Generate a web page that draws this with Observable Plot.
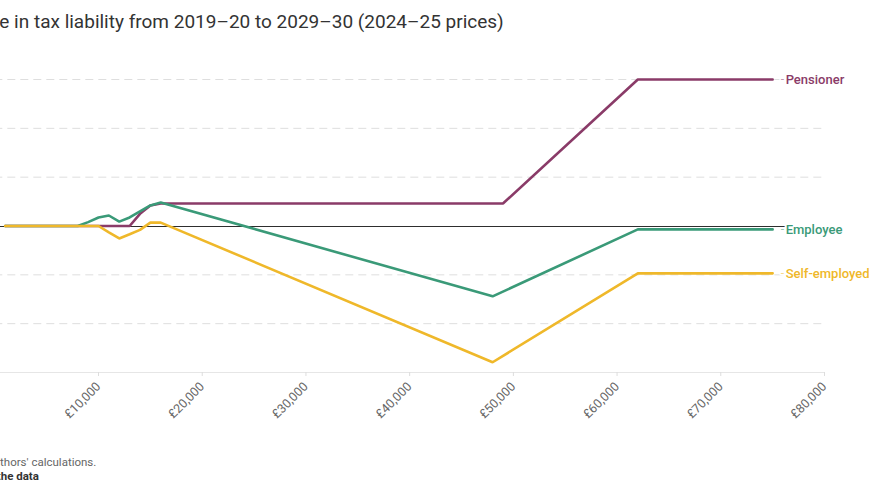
<!DOCTYPE html>
<html>
<head>
<meta charset="utf-8">
<script src="https://cdn.jsdelivr.net/npm/d3@7"></script>
<script src="https://cdn.jsdelivr.net/npm/@observablehq/plot@0.6"></script>
<style>
  html, body { margin: 0; padding: 0; background: #fff; }
  body { width: 869px; height: 504px; overflow: hidden; position: relative; font-family: Roboto, "Noto Sans", sans-serif; }
  #title { position: absolute; top: 10px; left: -55px; white-space: nowrap; font-size: 19px; color: #333; }
  #chart { position: absolute; top: 60px; left: -60px; }
  #chart svg { max-width: none; }
  .note { position: absolute; white-space: nowrap; font-size: 11.5px; }
  #source { top: 455px; left: -55px; color: #666; }
  #data { top: 469px; left: -24px; color: #333; font-weight: 700; }
</style>
</head>
<body>
<div id="title">Change in tax liability from 2019–20 to 2029–30 (2024–25 prices)</div>
<div id="chart"></div>
<div class="note" id="source">Source: Authors' calculations.</div>
<div class="note" id="data">Get the data</div>
<script>
// Gross income (£) and change in annual tax liability (£) for each household type
const employeeIncome = [1000, 8000, 9000, 10000, 11000, 12000, 13000, 14000, 15000, 16000, 48000, 62000, 75000];
const employeeChange = [0, 0, 80, 175, 215, 90, 175, 300, 420, 480, -1440, -70, -70];

const selfEmployedIncome = [1000, 10000, 11000, 12000, 13000, 14000, 15000, 16000, 48000, 62000, 75000];
const selfEmployedChange = [0, 0, -130, -255, -170, -80, 70, 70, -2790, -970, -970];

const pensionerIncome = [1000, 13000, 14000, 15000, 16000, 49000, 62000, 75000];
const pensionerChange = [0, 0, 250, 420, 460, 460, 3000, 3000];

const seriesNames = ["Pensioner", "Employee", "Self-employed"];
const seriesColors = ["#8a3b68", "#3a9a78", "#efb82a"];

const xTicks = [0, 10000, 20000, 30000, 40000, 50000, 60000, 70000, 80000];
const yTicks = [-3000, -2000, -1000, 0, 1000, 2000, 3000];

const seriesData = {
  "Pensioner": [pensionerIncome, pensionerChange],
  "Employee": [employeeIncome, employeeChange],
  "Self-employed": [selfEmployedIncome, selfEmployedChange]
};

const rows = seriesNames.flatMap(name => {
  const [inc, chg] = seriesData[name];
  return inc.map((income, i) => ({group: name, income, change: chg[i]}));
});
const lastRows = seriesNames.map(name => {
  const [inc, chg] = seriesData[name];
  return {group: name, income: inc[inc.length - 1], change: chg[chg.length - 1]};
});

const pounds = d => (d < 0 ? "−£" : "£") + d3.format(",")(Math.abs(d));

const chart = Plot.plot({
  width: 929,
  height: 372,
  marginLeft: 54.3,
  marginRight: 45,
  marginTop: 19,
  marginBottom: 60,
  style: {fontFamily: "Roboto, sans-serif", background: "transparent", overflow: "visible"},
  x: {domain: [0, 80000]},
  y: {domain: [-3000, 3000]},
  color: {domain: seriesNames, range: seriesColors},
  marks: [
    Plot.gridY(yTicks.filter(d => d !== 0 && d !== -3000), {stroke: "#dedede", strokeOpacity: 1, strokeDasharray: "8,5"}),
    Plot.ruleY([-3000], {stroke: "#e6e6e6"}),
    Plot.axisX(xTicks, {
      tickFormat: pounds, tickRotate: -45, tickSize: 4, tickPadding: 8,
      stroke: "#ddd", fill: "#666", fontSize: 12.5, label: null
    }),
    Plot.axisY(yTicks, {tickFormat: pounds, tickSize: 0, fill: "#666", fontSize: 12, label: null}),
    Plot.ruleY([0], {stroke: "#2e2e2e", strokeWidth: 1, dy: 0.5}),
    Plot.line(rows, {x: "income", y: "change", z: "group", stroke: "group", strokeWidth: 2.6, strokeLinejoin: "miter"}),
    Plot.text(lastRows, {
      x: "income", y: "change", text: () => "-", dx: 8, textAnchor: "start",
      fill: "group", fillOpacity: 0.55, fontSize: 12, stroke: "white", strokeWidth: 3
    }),
    Plot.text(lastRows, {
      x: "income", y: "change", text: "group", dx: 13, dy: 0.5, textAnchor: "start",
      fill: "group", fontSize: 13, fontWeight: 500, stroke: "white", strokeWidth: 4, paintOrder: "stroke"
    })
  ]
});

document.getElementById("chart").appendChild(chart);
</script>
</body>
</html>
